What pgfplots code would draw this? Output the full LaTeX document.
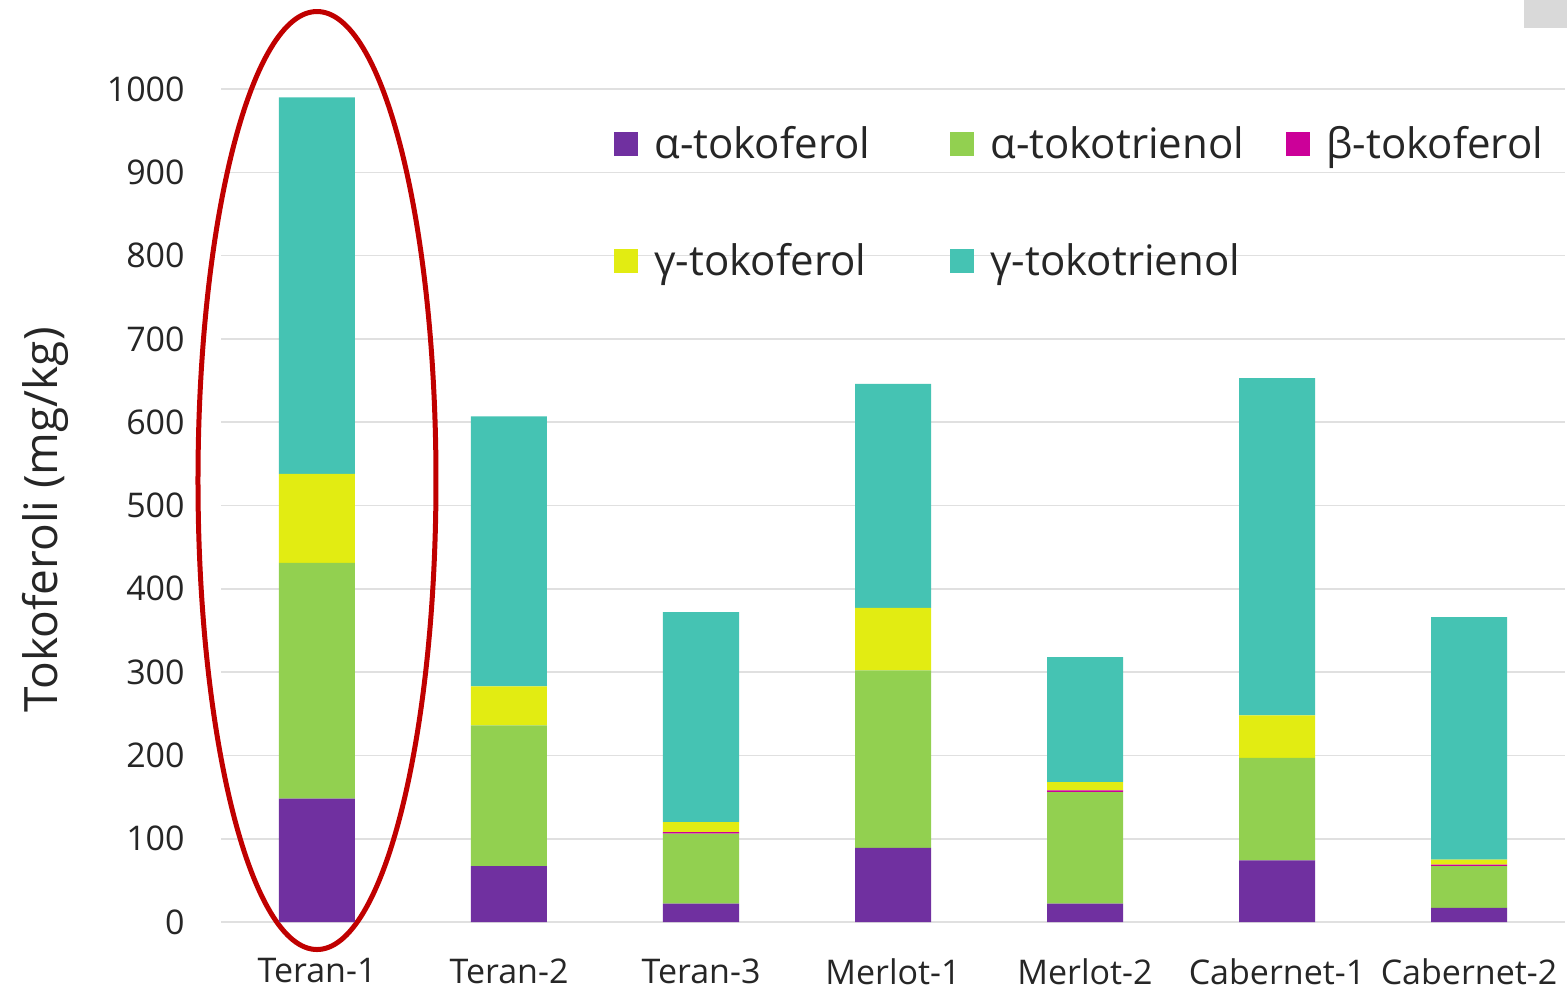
\documentclass[border=0pt]{standalone}
\usepackage{fontspec}
\setmainfont{Open Sans}
\usepackage{pgfplots}
\usepackage{pgfplotstable}
\pgfplotsset{compat=1.18}

\definecolor{atoc}{HTML}{7030A0}
\definecolor{at3}{HTML}{92D050}
\definecolor{btoc}{HTML}{CC0099}
\definecolor{gtoc}{HTML}{E2EC12}
\definecolor{gt3}{HTML}{45C3B3}
\definecolor{ringred}{HTML}{C00000}
\definecolor{txt}{HTML}{262626}

% tocopherol content per wine sample (mg/kg)
\pgfplotstableread{
x a1  a3  b g1  g3
0 148 283 0 107 452
1 67  169 0 47  324
2 22  84  2 12  252
3 89  213 0 75  269
4 22  134 2 10  150
5 74  123 0 51  405
6 17  50  2 6   291
}\tocdata

\begin{document}
\begin{tikzpicture}
\begin{axis}[
  at={(0,0)}, anchor=south west,
  scale only axis, width=672pt, height=416.5pt,
  xmin=-0.5, xmax=6.5, ymin=0, ymax=1000,
  ybar stacked, bar width=38pt,
  clip=false,
  xtick={0,...,6},
  xticklabels={Teran-1,Teran-2,Teran-3,Merlot-1,Merlot-2,Cabernet-1,Cabernet-2},
  ytick={0,100,...,1000},
  /pgf/number format/assume math mode=true,
  /pgf/number format/1000 sep={},
  ymajorgrids, grid style={draw=black!12, line width=0.8pt},
  axis line style={draw=none}, major tick length=0pt,
  tick label style={font=\fontsize{17}{20}\selectfont, text=txt},
  yticklabel style={anchor=east, inner sep=0pt, xshift=-18pt},
  xticklabel style={anchor=north, inner sep=0pt, yshift=-18pt},
  ylabel={Tokoferoli (mg/kg)},
  every axis y label/.style={at={(axis description cs:-0.131,0.483)}, rotate=90, anchor=center,
    font=\fontsize{23}{27}\selectfont, text=txt},
  legend columns=3,
  legend style={at={(axis cs:-0.5,0)}, anchor=north west, xshift=196.5pt, yshift=400pt,
    draw=none, fill=none, inner sep=0pt, font=\fontsize{21}{24}\selectfont, text=txt,
    /tikz/every odd column/.append style={column sep=6pt},
    /tikz/every even column/.append style={column sep=7.5pt},
    /tikz/row sep=37pt, cells={anchor=west}},
  legend image code/.code={\fill[#1] (0pt,-6pt) rectangle (12pt,6pt);},
]
\addplot[fill=atoc, draw=none] table[x=x, y=a1] {\tocdata};
\addlegendentry{\makebox[138.5pt][l]{α-tokoferol}}
\addplot[fill=at3, draw=none] table[x=x, y=a3] {\tocdata};
\addlegendentry{\makebox[138.5pt][l]{α-tokotrienol}}
\addplot[fill=btoc, draw=none] table[x=x, y=b] {\tocdata};
\addlegendentry{\makebox[138.5pt][l]{β-tokoferol}}
\addplot[fill=gtoc, draw=none] table[x=x, y=g1] {\tocdata};
\addlegendentry{\makebox[138.5pt][l]{γ-tokoferol}}
\addplot[fill=gt3, draw=none] table[x=x, y=g3] {\tocdata};
\addlegendentry{\makebox[138.5pt][l]{γ-tokotrienol}}

% highlight ring round the first sample
\draw[color=ringred, line width=2.5pt] (axis cs:0,530) ellipse [x radius=59.5pt, y radius=234.5pt];
\end{axis}
\fill[black!15] (651.5pt,447pt) rectangle (673pt,461pt);
\pgfresetboundingbox
\path[use as bounding box] (-110.5pt,-35.5pt) rectangle (673pt,461pt);
\end{tikzpicture}
\end{document}
